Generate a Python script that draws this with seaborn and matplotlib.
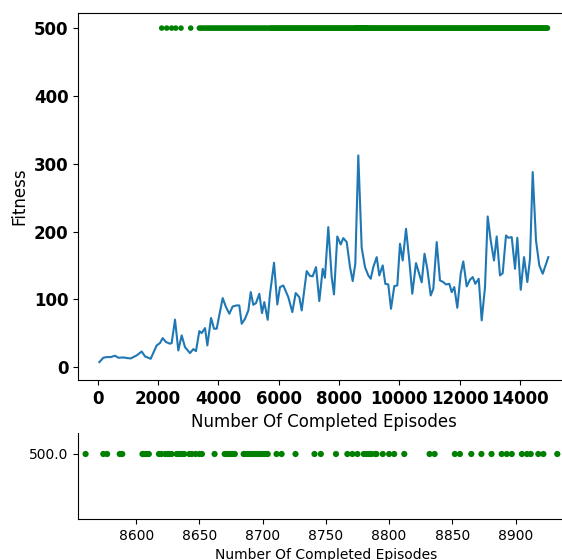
import matplotlib
matplotlib.use("Agg")
import matplotlib.pyplot as plt
import matplotlib.ticker as mticker
import seaborn as sns
import pandas as pd

# ---- data ----
line_episodes = [54, 187, 297, 429, 575, 685, 851, 983, 1094, 1293, 1459, 1569, 1757, 1956,
                 2066, 2155, 2265, 2398, 2453, 2564, 2674, 2785, 2895, 3061, 3172, 3260, 3371,
                 3449, 3559, 3637, 3760, 3857, 3946, 4145, 4255, 4366, 4477, 4610, 4697, 4776,
                 4886, 4997, 5076, 5161, 5250, 5360, 5449, 5526, 5638, 5715, 5848, 5957, 6046,
                 6156, 6322, 6455, 6567, 6687, 6766, 6932, 7041, 7131, 7241, 7350, 7463, 7536,
                 7648, 7761, 7837, 7947, 8060, 8146, 8259, 8368, 8458, 8544, 8643, 8756, 8866,
                 8975, 9055, 9141, 9254, 9340, 9453, 9539, 9638, 9728, 9837, 9937, 10026, 10116,
                 10226, 10335, 10434, 10557, 10646, 10746, 10840, 10932, 11045, 11131, 11244,
                 11353, 11463, 11552, 11662, 11741, 11827, 11927, 12040, 12126, 12239, 12348,
                 12438, 12524, 12637, 12736, 12846, 12935, 13035, 13144, 13234, 13343, 13433,
                 13542, 13619, 13732, 13842, 13918, 14031, 14140, 14250, 14338, 14428, 14537,
                 14647, 14760, 14946]
line_fitness = [7.4, 13.8, 14.8, 14.8, 16.8, 13.8, 14.3, 13.3, 12.8, 17.3, 23.0, 15.8, 12.3, 32.0,
                35.5, 42.8, 37.0, 34.5, 35.5, 70.0, 24.6, 46.8, 29.5, 20.7, 26.6, 23.6, 53.1,
                50.2, 57.6, 32.0, 72.5, 56.6, 56.6, 101.8, 88.5, 78.7, 89.5, 91.0, 91.0, 63.9,
                71.3, 83.6, 110.6, 91.9, 94.4, 108.2, 79.6, 95.9, 69.8, 108.2, 153.9, 92.4, 118.0,
                120.4, 103.2, 81.1, 109.2, 103.2, 83.6, 141.6, 134.5, 134.0, 147.5, 97.3, 145.0, 131.8,
                206.5, 132.8, 107.2, 192.7, 180.9, 190.3, 184.4, 147.5, 126.8, 152.4, 312.2, 176.0, 147.5,
                135.2, 130.3, 147.5, 162.2, 135.2, 150.0, 122.9, 121.9, 86.0, 119.5, 120.5, 181.9, 157.3,
                204.0, 157.3, 108.2, 153.4, 140.0, 125.0, 167.2, 145.0, 105.7, 115.5, 184.4,
                127.8, 125.4, 121.9, 122.9, 110.6, 118.0, 87.5, 137.7, 155.9, 119.0, 128.9,
                132.8, 122.9, 130.3, 68.9, 118.0, 222.2, 186.8, 157.3, 192.7, 135.2, 138.6,
                194.2, 190.8, 191.7, 145.0, 190.8, 114.0, 162.2, 125.4, 159.8, 287.7, 186.8,
                150.0, 137.7, 162.2]

# episodes (zoomed window) in which the maximum fitness of 500 was reached
zoom_episodes = [8560, 8574, 8577, 8587, 8589, 8605, 8606, 8608, 8610, 8618, 8620, 8623, 8625,
                 8626, 8628, 8632, 8634, 8636, 8638, 8642, 8644, 8647, 8650, 8652, 8662, 8670,
                 8672, 8674, 8676, 8678, 8685, 8686, 8688, 8690, 8692, 8694, 8696, 8698, 8700,
                 8702, 8704, 8711, 8715, 8726, 8741, 8746, 8758, 8767, 8771, 8775, 8780, 8782,
                 8784, 8786, 8789, 8790, 8795, 8800, 8804, 8812, 8832, 8836, 8852, 8856, 8865,
                 8873, 8881, 8889, 8893, 8897, 8905, 8909, 8912, 8918, 8922, 8933]
max_episodes_early = [2123, 2289, 2454, 2587, 2763, 3085,
                      3370, 3425, 3482, 3540, 3596, 3655, 3710, 3768, 3825, 3881, 3940, 3995,
                      4053, 4110, 4166, 4225, 4280, 4338, 4395, 4451, 4510, 4565, 4623, 4680,
                      4736, 4795, 4850, 4908, 4965, 5021, 5080, 5135, 5193, 5250, 5306, 5365,
                      5420, 5478, 5535, 5591, 5650,
                      5712, 5749, 5788, 5826, 5861, 5899, 5938, 5975, 6011, 6050, 6088, 6124,
                      6163, 6201, 6237, 6276, 6314, 6350, 6389, 6427, 6463, 6502, 6540, 6576,
                      6615, 6653, 6689, 6728, 6766, 6802, 6841, 6879, 6915, 6954, 6992, 7028,
                      7067, 7105, 7141, 7180, 7218, 7254, 7293, 7331, 7367, 7406, 7444, 7480,
                      7519, 7557, 7593, 7632, 7670, 7706, 7745, 7783, 7819, 7858, 7896, 7932,
                      7971, 8009, 8045, 8084, 8122, 8158, 8197, 8235, 8271, 8310, 8348, 8384,
                      8423, 8461, 8497, 8536]
max_episodes_late = [8960, 8998, 9034, 9073, 9111, 9147, 9186, 9224, 9260, 9299, 9337, 9373,
                     9412, 9450, 9486, 9525, 9563, 9599, 9638, 9676, 9712, 9751, 9789, 9825,
                     9864, 9902, 9938, 9977, 10015, 10051, 10090, 10128, 10164, 10203, 10241,
                     10277, 10316, 10354, 10390, 10429, 10467, 10503, 10542, 10580, 10616, 10655,
                     10693, 10729, 10768, 10806, 10842, 10881, 10919, 10955, 10994, 11032, 11068,
                     11107, 11145, 11181, 11220, 11258, 11294, 11333, 11371, 11407, 11446, 11484,
                     11520, 11559, 11597, 11633, 11672, 11710, 11746, 11785, 11823, 11859, 11898,
                     11936, 11972, 12011, 12049, 12085, 12124, 12162, 12198, 12237, 12275, 12311,
                     12350, 12388, 12424, 12463, 12501, 12537, 12576, 12614, 12650, 12689, 12727,
                     12758, 12790, 12819, 12851, 12880, 12912, 12941, 12973, 13002, 13034, 13063,
                     13095, 13124, 13156, 13185, 13217, 13246, 13278, 13307, 13339, 13368, 13400,
                     13429, 13461, 13490, 13522, 13551, 13583, 13612, 13644, 13673, 13705, 13734,
                     13766, 13795, 13827, 13856, 13888, 13917, 13949, 13978, 14010, 14039, 14071,
                     14100, 14132, 14161, 14193, 14222, 14254, 14283, 14315, 14344, 14376, 14405,
                     14437, 14466, 14498, 14527, 14559, 14588, 14620, 14649, 14681, 14710, 14742,
                     14771, 14803, 14832, 14864, 14893, 14918]
max_fitness = 500.0

line_df = pd.DataFrame({"episode": line_episodes, "fitness": line_fitness})
all_max = max_episodes_early + zoom_episodes + max_episodes_late
max_df = pd.DataFrame({"episode": all_max, "fitness": [max_fitness] * len(all_max)})
zoom_df = pd.DataFrame({"episode": zoom_episodes, "fitness": [max_fitness] * len(zoom_episodes)})

plt.rcParams["font.family"] = ["DejaVu Sans"]
fig = plt.figure(figsize=(5.62, 5.60), dpi=100)

W, H = 562.0, 560.0
ax1 = fig.add_axes([78.2 / W, (H - 380) / H, (570 - 78.2) / W, (380 - 12.5) / H])
sns.lineplot(data=line_df, x="episode", y="fitness", ax=ax1, color="#1f77b4", linewidth=1.5)
sns.scatterplot(data=max_df, x="episode", y="fitness", ax=ax1, color="green", s=16,
                linewidth=0, edgecolor="none")
ax1.set_xlim(-647, 15665)
ax1.set_ylim(-19, 523)
ax1.set_yticks([0, 100, 200, 300, 400, 500])
ax1.set_xticks([0, 2000, 4000, 6000, 8000, 10000, 12000, 14000])
for lab in ax1.get_xticklabels() + ax1.get_yticklabels():
    lab.set_fontweight("bold")
    lab.set_fontsize(12)
ax1.set_xlabel("Number Of Completed Episodes", fontsize=12)
ax1.set_ylabel("Fitness", fontsize=12)
ax1.spines["right"].set_visible(False)

ax2 = fig.add_axes([78.0 / W, (H - 519) / H, (575 - 78.0) / W, (519 - 433.3) / H])
sns.scatterplot(data=zoom_df, x="episode", y="fitness", ax=ax2, color="green", s=20,
                linewidth=0, edgecolor="none")
ax2.set_xlim(8554, 8947)
ax2.set_ylim(499.2415, 500.2415)
ax2.set_yticks([max_fitness])
ax2.yaxis.set_major_formatter(mticker.FormatStrFormatter("%.1f"))
ax2.set_xticks([8600, 8650, 8700, 8750, 8800, 8850, 8900])
ax2.tick_params(labelsize=10)
ax2.set_xlabel("Number Of Completed Episodes", fontsize=10)
ax2.set_ylabel("")
ax2.spines["top"].set_visible(False)
ax2.spines["right"].set_visible(False)

fig.savefig("out.png", dpi=100)
